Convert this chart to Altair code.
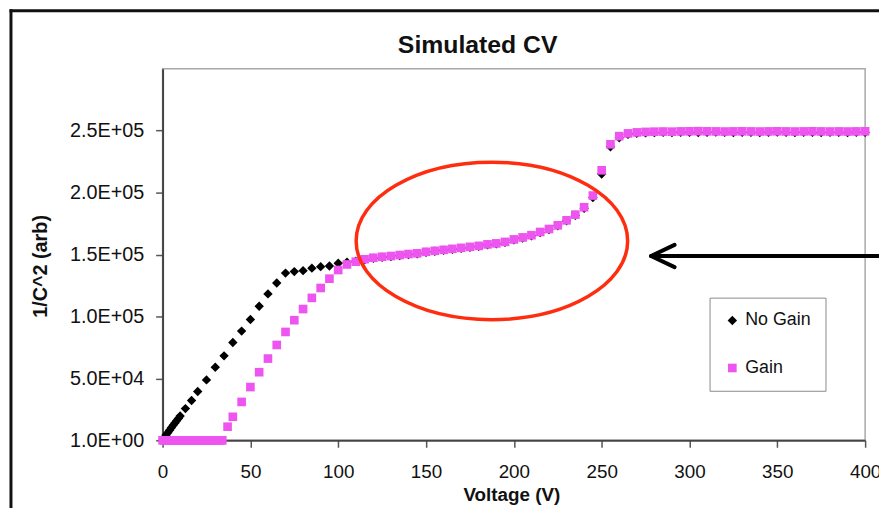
import altair as alt
import pandas as pd

# ---------------- data ----------------
SERIES = ["No Gain", "Gain"]
COLORS = ["#000000", "#ee55f0"]
SHAPES = ["diamond", "square"]
MARK_SIZES = [90, 76]

NO_GAIN_V = [0, 1, 2, 3, 4, 5, 6, 7, 8, 9, 10, 13, 16.5, 20, 25, 30, 35, 40, 45, 50,
             55, 60, 65, 70, 75, 80, 85, 90, 95, 100, 105, 110, 115, 120, 125, 130,
             135, 140, 145, 150, 155, 160, 165, 170, 175, 180, 185, 190, 195, 200,
             205, 210, 215, 220, 225, 230, 235, 240, 245, 250, 255, 260, 265, 270,
             275, 280, 285, 290, 295, 300, 305, 310, 315, 320, 325, 330, 335, 340,
             345, 350, 355, 360, 365, 370, 375, 380, 385, 390, 395, 400]
NO_GAIN_C = [1, 2100, 4300, 6200, 8200, 10100, 12100, 13900, 15800, 17700, 19600,
             25600, 32200, 39400, 48800, 59000, 68200, 79000, 88200, 97600, 108200,
             118200, 127000, 135000, 136200, 137000, 139000, 140200, 140800, 143000,
             143800, 144600, 145800, 147000, 147800, 148400, 149200, 150000, 150600,
             151800, 152600, 153400, 154200, 155000, 155800, 156600, 157800, 158600,
             159800, 161800, 163400, 165200, 167800, 170200, 173200, 177200, 181600,
             187400, 196000, 215000, 237000, 244200, 247000, 247800, 248200,
             248400, 248600, 248500, 248700, 248600, 248500, 248700, 248800, 248600,
             248500, 248700, 248600, 248500, 248700, 248800, 248600, 248500, 248700,
             248600, 248500, 248700, 248600, 248500, 248700, 248600]

GAIN_V = [0, 1, 2, 3, 4, 5, 6, 7, 8, 9, 10, 11, 12, 13, 14, 15, 16, 17, 18, 19, 20,
          21, 22, 23, 24, 25, 26, 27, 28, 29, 30, 31, 32, 33, 34, 37, 40, 45, 50, 55,
          60, 65, 70, 75, 80, 85, 90, 95, 100, 105, 110, 115, 120, 125, 130, 135, 140,
          145, 150, 155, 160, 165, 170, 175, 180, 185, 190, 195, 200, 205, 210, 215,
          220, 225, 230, 235, 240, 245, 250, 255, 260, 265, 270, 275, 280, 285, 290,
          295, 300, 305, 310, 315, 320, 325, 330, 335, 340, 345, 350, 355, 360, 365,
          370, 375, 380, 385, 390, 395, 400]
GAIN_C = [1, 1, 1, 1, 1, 1, 1, 1, 1, 1, 1, 1, 1, 1, 1, 1, 1, 1, 1, 1, 1, 1, 1, 1, 1,
          1, 1, 1, 1, 1, 1, 1, 1, 1, 1, 11000, 19000, 31000, 43000, 55000, 66000,
          77000, 87500, 97000, 106000, 115000, 123000, 130500, 137500, 142000, 144200,
          146200, 147400, 148200, 148800, 149600, 150400, 151000, 152200, 153000,
          153800, 154600, 155400, 156200, 157000, 158200, 159000, 160200, 162200,
          163800, 165600, 168200, 170600, 173600, 177600, 182200, 188200, 197600,
          218000, 239000, 245600, 247800, 248600, 249000, 249200, 249300, 249200,
          249400, 249500, 249600, 249500, 249400, 249300, 249400, 249500, 249400,
          249300, 249400, 249500, 249400, 249300, 249400, 249500, 249400, 249300,
          249400, 249300, 249400, 249500]

X_TICKS = [0, 50, 100, 150, 200, 250, 300, 350, 400]
Y_TICKS = [0, 50000, 100000, 150000, 200000, 250000]
Y_TICK_LABELS = ["1.0E+00", "5.0E+04", "1.0E+05", "1.5E+05", "2.0E+05", "2.5E+05"]

TITLE = "Simulated CV"
X_TITLE = "Voltage (V)"
Y_TITLE = "1/C^2 (arb)"

assert len(NO_GAIN_V) == len(NO_GAIN_C)
assert len(GAIN_V) == len(GAIN_C)

# ---------------- annotation placement (data coordinates) ----------------
ELLIPSE_V, ELLIPSE_C = 187.5, 161000
ARROW_TIP_V, ARROW_END_V, ARROW_C = 278.1, 412.0, 148800
ARROW_ARM_V, ARROW_ARM_HI, ARROW_ARM_LO = 291.5, 157800, 139800

FONT = "Liberation Sans"
W, H = 709, 375

df = pd.DataFrame({
    "V": NO_GAIN_V + GAIN_V,
    "C": NO_GAIN_C + GAIN_C,
    "series": [SERIES[0]] * len(NO_GAIN_V) + [SERIES[1]] * len(GAIN_V),
})

y_label_expr = " : ".join(
    f"datum.value == {v} ? '{lab}'" for v, lab in zip(Y_TICKS, Y_TICK_LABELS)
) + " : ''"

legend = alt.Legend(
    orient="none", legendX=552, legendY=231, title=None,
    padding=14, strokeColor="#8a8a8a", fillColor="white",
    labelFont=FONT, labelFontSize=18, labelColor="#111",
    symbolSize=55, labelOffset=4, rowPadding=30,
    symbolStrokeWidth=0,
)

x_enc = alt.X(
    "V:Q",
    scale=alt.Scale(domain=[0, 400], nice=False, zero=False),
    axis=alt.Axis(
        values=X_TICKS, format="d", grid=False,
        labelFont=FONT, labelFontSize=19, labelColor="#111", labelPadding=16,
        labelFlush=False, labelOverlap=False,
        tickSize=7, tickColor="#555", tickWidth=1.5,
        domainColor="#444", domainWidth=2,
        title=X_TITLE, titleFont=FONT, titleFontSize=19, titleFontWeight="bold",
        titleColor="#111", titleX=352, titleY=55, titleBaseline="middle",
        titleAlign="center",
    ),
)
y_enc = alt.Y(
    "C:Q",
    scale=alt.Scale(domain=[0, 300000], nice=False),
    axis=alt.Axis(
        values=Y_TICKS, labelExpr=y_label_expr, grid=False,
        labelFont=FONT, labelFontSize=20, labelColor="#111", labelPadding=12,
        tickSize=7, tickColor="#555", tickWidth=1.5,
        domainColor="#444", domainWidth=2,
        title=Y_TITLE, titleFont=FONT, titleFontSize=20, titleFontWeight="bold",
        titleColor="#111", titleX=-123, titleY=199, titleBaseline="middle",
        titleAlign="center", titleAngle=270,
    ),
)

points = alt.Chart(df).mark_point(filled=True, opacity=1, strokeWidth=0).encode(
    x=x_enc,
    y=y_enc,
    color=alt.Color("series:N", scale=alt.Scale(domain=SERIES, range=COLORS), legend=legend),
    shape=alt.Shape("series:N", scale=alt.Scale(domain=SERIES, range=SHAPES), legend=legend),
    size=alt.Size("series:N", scale=alt.Scale(domain=SERIES, range=MARK_SIZES), legend=None),
)

one = pd.DataFrame({"k": [0]})

ellipse_path = "M -1 0 A 1 0.58 0 1 1 1 0 A 1 0.58 0 1 1 -1 0 Z"
ellipse = alt.Chart(one).mark_point(
    shape=ellipse_path, size=274 * 274, filled=False, stroke="#ff2d10",
    strokeWidth=3.5, opacity=1,
).encode(x=alt.datum(ELLIPSE_V), y=alt.datum(ELLIPSE_C))

arrow_line = alt.Chart(one).mark_rule(color="black", strokeWidth=4).encode(
    x=alt.datum(ARROW_TIP_V), x2=alt.datum(ARROW_END_V),
    y=alt.datum(ARROW_C), y2=alt.datum(ARROW_C),
)
arrow_arm1 = alt.Chart(one).mark_rule(color="black", strokeWidth=4, strokeCap="round").encode(
    x=alt.datum(ARROW_TIP_V), x2=alt.datum(ARROW_ARM_V),
    y=alt.datum(ARROW_C), y2=alt.datum(ARROW_ARM_HI),
)
arrow_arm2 = alt.Chart(one).mark_rule(color="black", strokeWidth=4, strokeCap="round").encode(
    x=alt.datum(ARROW_TIP_V), x2=alt.datum(ARROW_ARM_V),
    y=alt.datum(ARROW_C), y2=alt.datum(ARROW_ARM_LO),
)

title = alt.Chart(pd.DataFrame({"t": [TITLE]})).mark_text(
    font=FONT, fontSize=25, fontWeight="bold", color="#111",
    align="center", baseline="middle",
).encode(text="t:N", x=alt.value(318), y=alt.value(-24))

border_left = alt.Chart(one).mark_rule(color="#111", strokeWidth=3).encode(
    x=alt.value(-153), y=alt.value(-60), y2=alt.value(445),
)
border_top = alt.Chart(one).mark_rule(color="#111", strokeWidth=3).encode(
    x=alt.value(-154.5), x2=alt.value(730), y=alt.value(-58.5),
)

chart = alt.layer(
    points, ellipse, arrow_line, arrow_arm1, arrow_arm2, title, border_left, border_top
).properties(
    width=W, height=H,
    padding={"left": 156, "top": 59, "right": 14, "bottom": 66},
    autosize=alt.AutoSizeParams(type="none"),
    background="white",
).configure_view(stroke="#a8a8a8", strokeWidth=1.5)

chart.save("out.html", embed_options={"renderer": "svg", "actions": False})
